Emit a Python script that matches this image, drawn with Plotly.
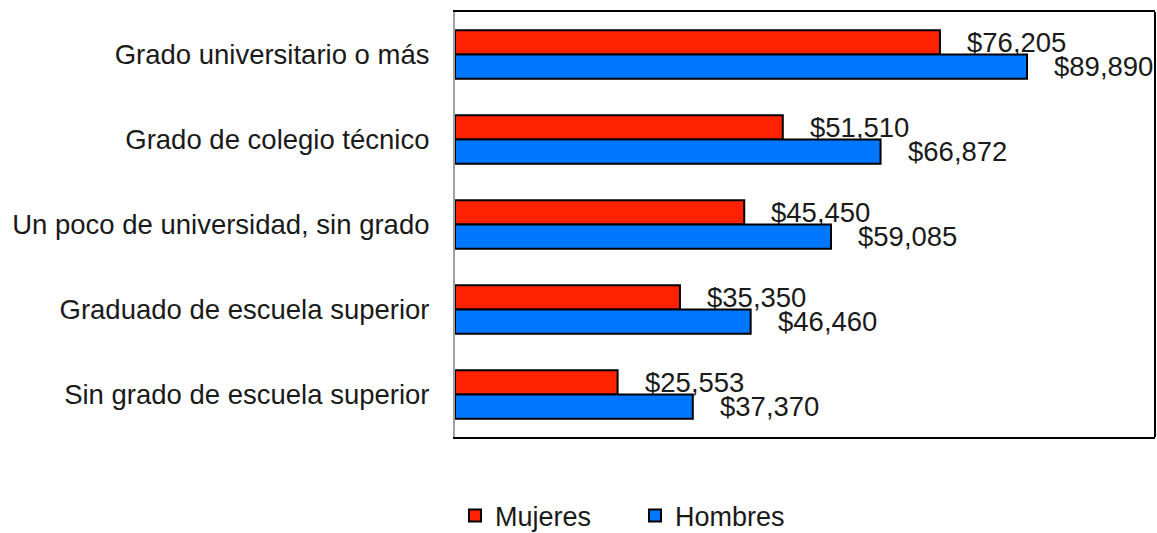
import plotly.graph_objects as go

categories = [
    "Grado universitario o más",
    "Grado de colegio técnico",
    "Un poco de universidad, sin grado",
    "Graduado de escuela superior",
    "Sin grado de escuela superior",
]
mujeres = [76205, 51510, 45450, 35350, 25553]
hombres = [89890, 66872, 59085, 46460, 37370]

FONT = "Liberation Sans, Arial, sans-serif"
RED = "#FF2200"
BLUE = "#0077FF"
FS = 27.5

fig = go.Figure()
fig.add_trace(go.Bar(y=categories, x=mujeres, orientation="h", name="Mujeres",
                     marker=dict(color=RED, line=dict(color="black", width=2))))
fig.add_trace(go.Bar(y=categories, x=hombres, orientation="h", name="Hombres",
                     marker=dict(color=BLUE, line=dict(color="black", width=2))))

for vals, shift in ((mujeres, 12), (hombres, -12)):
    for c, v in zip(categories, vals):
        fig.add_annotation(x=v, y=c, text=f"${v:,}", showarrow=False,
                           xanchor="left", yanchor="middle", xshift=25, yshift=shift,
                           font=dict(family=FONT, size=FS, color="#1a1a1a"))

fig.add_shape(type="line", xref="paper", yref="paper", x0=1, x1=1, y0=0, y1=1,
              line=dict(color="black", width=2))

fig.update_layout(
    width=1157, height=533,
    margin=dict(l=455, r=2, t=12, b=96, autoexpand=False),
    paper_bgcolor="white", plot_bgcolor="white",
    barmode="group", bargap=0.43, bargroupgap=0,
    font=dict(family=FONT, size=FS, color="#1a1a1a"),
    showlegend=True,
    legend=dict(orientation="h", x=0.0, xanchor="left", y=-0.186, yanchor="middle",
                font=dict(family=FONT, size=27, color="#1a1a1a"), entrywidth=135,
                itemclick=False),
    xaxis=dict(range=[0, 110000], showgrid=False, zeroline=False, showticklabels=False,
               showline=True, linecolor="black", linewidth=2, mirror=True, ticks=""),
    yaxis=dict(autorange="reversed", showgrid=False, zeroline=False,
               showline=True, linecolor="#a0a0a0", linewidth=2, ticks="",
               ticklabelstandoff=18, tickfont=dict(family=FONT, size=FS, color="#1a1a1a")),
)

fig.write_html("out.html", config={"displayModeBar": False},
               post_script="document.body.style.margin='0';")
